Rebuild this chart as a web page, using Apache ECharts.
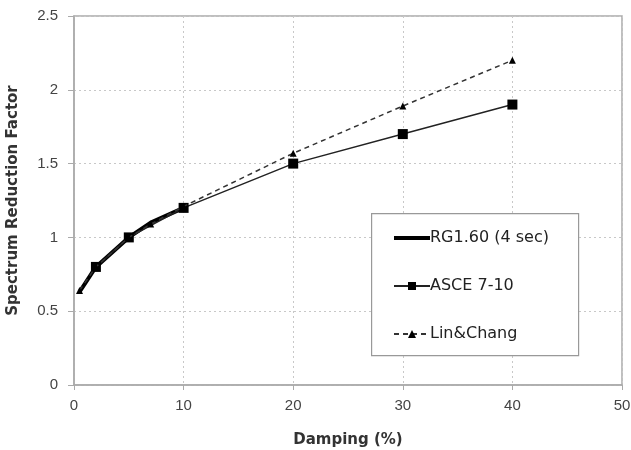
<!DOCTYPE html>
<html>
<head>
<meta charset="utf-8">
<script src="https://cdn.jsdelivr.net/npm/echarts@6/dist/echarts.min.js"></script>
<style>
  html, body { margin: 0; padding: 0; background: #fff; }
  #chart { width: 631px; height: 450px; }
</style>
</head>
<body>
<div id="chart"></div>
<script>
// 阻尼比 (%) 与反应谱折减系数
const rgDamping = [0.5, 2, 5, 7, 10]
const rgFactor = [0.63, 0.8, 1.0, 1.1, 1.2]

const asceDamping = [2, 5, 10, 20, 30, 40]
const asceFactor = [0.8, 1.0, 1.2, 1.5, 1.7, 1.9]

const lcDamping = [0.5, 2, 5, 7, 10, 20, 30, 40]
const lcFactor = [0.64, 0.8, 1.0, 1.09, 1.21, 1.57, 1.89, 2.2]

const seriesNames = ['RG1.60 (4 sec)', 'ASCE 7-10', 'Lin&Chang']

const pairs = (xs, ys) => xs.map((x, i) => [x, ys[i]])

const chart = echarts.init(document.getElementById('chart'))

const labelStyle = { color: '#444', fontSize: 15, fontFamily: 'Liberation Sans' }
const nameStyle = { color: '#333', fontSize: 15, fontWeight: 'bold', fontFamily: 'DejaVu Sans' }

const option = {
  animation: false,
  grid: {
    left: 74, right: 9, top: 16, bottom: 65,
    outerBoundsMode: 'none',
    containLabel: false,
    show: true, borderColor: '#aaa', borderWidth: 1.5
  },
  xAxis: {
    type: 'value',
    min: 0, max: 50, interval: 10,
    name: 'Damping (%)',
    nameLocation: 'middle',
    nameGap: 48,
    nameTextStyle: nameStyle,
    axisLine: { lineStyle: { color: '#aaa', width: 1.5 } },
    axisTick: { show: true, length: 5, lineStyle: { color: '#aaa' } },
    axisLabel: Object.assign({ margin: 13 }, labelStyle),
    splitLine: { show: true, lineStyle: { color: '#c8c8c8', type: [2, 3] } }
  },
  yAxis: {
    type: 'value',
    min: 0, max: 2.5, interval: 0.5,
    name: 'Spectrum Reduction Factor',
    nameLocation: 'middle',
    nameGap: 53,
    nameTextStyle: nameStyle,
    axisLine: { show: true, lineStyle: { color: '#aaa', width: 1.5 } },
    axisTick: { show: true, length: 6, lineStyle: { color: '#aaa' } },
    axisLabel: Object.assign({ margin: 16 }, labelStyle),
    splitLine: { show: true, lineStyle: { color: '#c8c8c8', type: [2, 3] } }
  },
  graphic: [
    {
      type: 'rect',
      left: 371, top: 213,
      shape: { width: 207, height: 142 },
      style: { fill: '#fff', stroke: '#999', lineWidth: 1.2 },
      z: 5
    }
  ],
  legend: {
    orient: 'vertical',
    left: 393, top: 230,
    padding: 0,
    itemWidth: 36, itemHeight: 10,
    itemGap: 32,
    z: 10,
    textStyle: { color: '#222', fontSize: 16, fontFamily: 'DejaVu Sans', padding: [0, 0, 0, -5] },
    data: [
      { name: seriesNames[0], icon: 'path://M0,0H36V4H0Z' },
      { name: seriesNames[1] },
      { name: seriesNames[2] }
    ]
  },
  series: [
    {
      name: seriesNames[0],
      type: 'line',
      data: pairs(rgDamping, rgFactor),
      showSymbol: false,
      symbol: 'none',
      lineStyle: { color: '#000', width: 4 },
      itemStyle: { color: '#000' },
      z: 2
    },
    {
      name: seriesNames[1],
      type: 'line',
      data: pairs(asceDamping, asceFactor),
      symbol: 'rect',
      symbolSize: 10,
      lineStyle: { color: '#222', width: 1.5 },
      itemStyle: { color: '#000' },
      z: 3
    },
    {
      name: seriesNames[2],
      type: 'line',
      data: pairs(lcDamping, lcFactor),
      symbol: 'triangle',
      symbolSize: 7,
      lineStyle: { color: '#333', width: 1.5, type: [5, 4] },
      itemStyle: { color: '#000' },
      z: 4
    }
  ]
}

chart.setOption(option)
</script>
</body>
</html>
